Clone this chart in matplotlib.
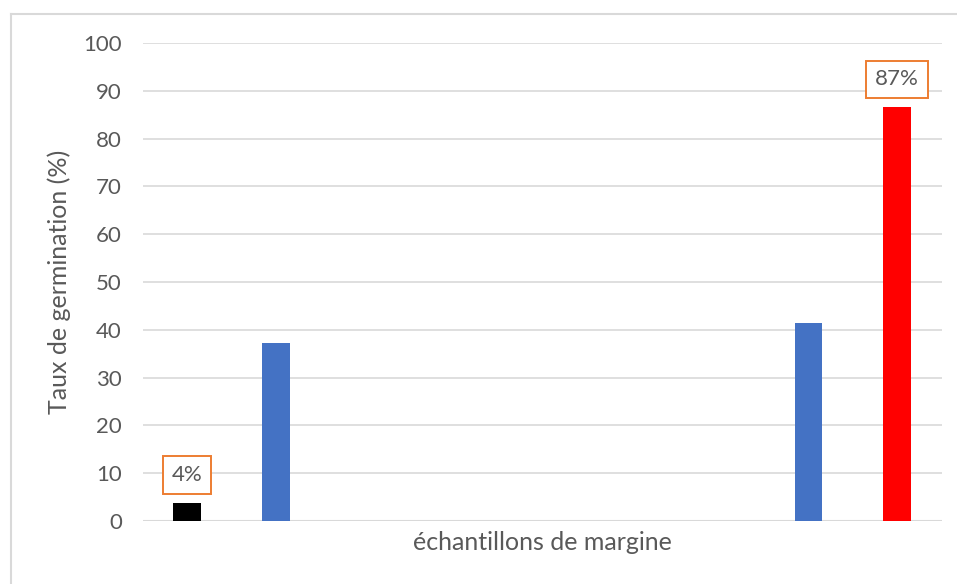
import matplotlib
matplotlib.use("Agg")
from matplotlib import pyplot as plt
from matplotlib.lines import Line2D

# one bar per sample, empty slots kept as zero
samples = ["E1", "E2", "E3", "E4", "E5", "E6", "E7", "E8", "E9"]
germination = [3.8, 37.3, 0, 0, 0, 0, 0, 41.4, 86.5]
barColors = ["#000000", "#4472C4", "#4472C4", "#4472C4", "#4472C4",
             "#4472C4", "#4472C4", "#4472C4", "#FF0000"]
labelled = {0: "4%", 8: "87%"}

textColor = "#595959"
gridColor = "#D9D9D9"
plt.rcParams["font.family"] = ["Lato", "DejaVu Sans"]

figure = plt.figure(figsize=(9.57, 5.84), dpi=100)
axis = figure.add_axes([0.149, 0.108, 0.835, 0.8185])

positions = list(range(len(samples)))
bars = axis.bar(positions, germination, width=0.315, color=barColors, zorder=3)

for idx, text in labelled.items():
    bar = bars[idx]
    axis.annotate(text, (bar.get_x() + bar.get_width() / 2, bar.get_height()),
                  xytext=(0, 13), textcoords="offset points",
                  ha="center", va="bottom", fontsize=16, color=textColor,
                  bbox=dict(boxstyle="square,pad=0.4", fc="white",
                            ec="#ED7D31", lw=1.4), zorder=4)

axis.set_xlim(-0.5, len(samples) - 0.5)
axis.set_ylim(0, 100)
axis.set_yticks(range(0, 101, 10))
axis.set_xticks([])
axis.grid(axis="y", color=gridColor, lw=1.2, zorder=0)
for side in ["top", "right", "left", "bottom"]:
    axis.spines[side].set_visible(False)
axis.axhline(0, color=gridColor, lw=1.5, zorder=2)
axis.tick_params(axis="y", length=0, pad=15, labelsize=16, labelcolor=textColor)

axis.set_xlabel("échantillons de margine", fontsize=18, color=textColor, labelpad=7)
axis.set_ylabel("Taux de germination (%)", fontsize=18, color=textColor, labelpad=9)

# chart-area frame, partly cut off in the original
figure.add_artist(Line2D([10.5 / 957, 10.5 / 957], [0, 1 - 14 / 584],
                         transform=figure.transFigure, color=gridColor, lw=1.5))
figure.add_artist(Line2D([10.5 / 957, 1], [1 - 14 / 584, 1 - 14 / 584],
                         transform=figure.transFigure, color=gridColor, lw=1.5))

figure.savefig("out.png", dpi=100)
